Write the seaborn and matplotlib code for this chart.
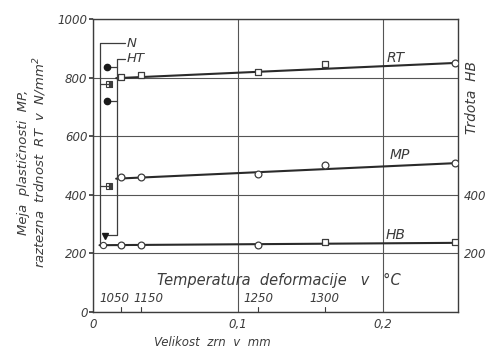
import matplotlib
matplotlib.use("Agg")
import matplotlib.pyplot as plt
import seaborn as sns
import pandas as pd

# ---------------- data ----------------
grain_size = [0.019, 0.033, 0.114, 0.160, 0.250]   # mm
rt_values = [802, 808, 818, 846, 850]               # N/mm^2
mp_values = [460, 462, 470, 502, 508]               # N/mm^2
hb_values = [228, 228, 229, 238, 238]               # HB
rt_marks = ["s", "s", "s", "s", "o"]
mp_marks = ["o", "o", "o", "o", "o"]
hb_marks = ["o", "o", "o", "s", "s"]

# fitted straight lines (end points)
rt_fit_x, rt_fit_y = [0.016, 0.250], [798, 850]
mp_fit_x, mp_fit_y = [0.016, 0.250], [455, 508]
hb_fit_x, hb_fit_y = [0.0045, 0.250], [228, 236]

# N and HT states
n_x, n_vals = [0.011, 0.011, 0.007], [778, 430, 228]
ht_x, ht_vals = [0.010, 0.010, 0.008], [836, 720, 259]

# temperature scale
temp_labels = ["1050", "1150", "1250", "1300"]
temp_x = [0.019, 0.033, 0.114, 0.160]

y_ticks = [0, 200, 400, 600, 800, 1000]
y_ticklabels = ["0", "200", "400", "600", "800", "1000"]
x_ticks = [0, 0.1, 0.2]
x_ticklabels = ["0", "0,1", "0,2"]
hb_ticks = [200, 400]
hb_ticklabels = ["200", "400"]

# ---------------- style ----------------
sns.set_theme(style="white")
plt.rcParams["font.family"] = ["DejaVu Sans"]
plt.rcParams["font.style"] = "italic"
INK = "#3c3c3c"
plt.rcParams["text.color"] = INK

fig = plt.figure(figsize=(4.86, 3.52), dpi=100)
ax = fig.add_axes([93 / 486, 1 - 312 / 352, 365 / 486, 293 / 352])

ax.set_xlim(0, 0.252)
ax.set_ylim(0, 1000)
ax.set_xticks(x_ticks)
ax.set_yticks(y_ticks)
ax.set_xticklabels(x_ticklabels, fontsize=8.5, color=INK)
ax.set_yticklabels(y_ticklabels, fontsize=8.5, color=INK)
ax.grid(True, color="#555555", linewidth=0.8)
ax.tick_params(axis="y", length=3, color=INK, pad=1)
ax.tick_params(axis="x", length=0, pad=4)
for s in ax.spines.values():
    s.set_color(INK)
    s.set_linewidth(1.0)

# fitted lines
for fx, fy in [(rt_fit_x, rt_fit_y), (mp_fit_x, mp_fit_y), (hb_fit_x, hb_fit_y)]:
    sns.lineplot(x=fx, y=fy, ax=ax, color="#2a2a2a", linewidth=1.5, legend=False)

# measured points
df = pd.DataFrame({
    "x": grain_size * 3,
    "y": rt_values + mp_values + hb_values,
    "m": rt_marks + mp_marks + hb_marks,
})
for mk in ["s", "o"]:
    sub = df[df["m"] == mk]
    sns.scatterplot(data=sub, x="x", y="y", ax=ax, marker=mk, s=24,
                    facecolor="white", edgecolor=INK, linewidth=0.9,
                    zorder=5, legend=False)
ax.set_xlabel("")
ax.set_ylabel("")

# N state: half-filled squares + open circle
ax.plot(n_x[:2], n_vals[:2], ls="none", marker="s", ms=5, mfc=INK,
        fillstyle="right", mec=INK, mew=0.8, zorder=5)
ax.plot(n_x[2:], n_vals[2:], ls="none", marker="o", ms=4.5, mfc="white",
        mec=INK, mew=0.8, zorder=5)
# HT state: filled markers
ax.plot(ht_x[:2], ht_vals[:2], ls="none", marker="o", ms=4.5, color="#1a1a1a", zorder=5)
ax.plot(ht_x[2:], ht_vals[2:], ls="none", marker="v", ms=5, color="#1a1a1a", zorder=5)

# brackets
n_br_x, ht_br_x, br_end = 0.0045, 0.0165, 0.022
ax.plot([br_end, n_br_x, n_br_x], [918, 918, hb_fit_y[0]], color=INK, lw=0.9, zorder=4)
for xv, yv in zip(n_x[:2], n_vals[:2]):
    ax.plot([n_br_x, xv], [yv, yv], color=INK, lw=0.9, zorder=4)
ax.plot([br_end, ht_br_x, ht_br_x, ht_x[2]], [863, 863, 263, 263], color=INK, lw=0.9, zorder=4)
for xv, yv in zip(ht_x[:2], ht_vals[:2]):
    ax.plot([ht_br_x, xv], [yv, yv], color=INK, lw=0.9, zorder=4)
ax.text(0.0235, 918, "N", fontsize=9.5, va="center", ha="left")
ax.text(0.0235, 866, "HT", fontsize=9.5, va="center", ha="left")

# curve labels
ax.text(0.209, 868, "RT", fontsize=10, ha="center", va="center")
ax.text(0.212, 535, "MP", fontsize=10, ha="center", va="center")
ax.text(0.209, 263, "HB", fontsize=10, ha="center", va="center")

# temperature scale
for tx in temp_x:
    ax.plot([tx, tx], [0, 18], color=INK, lw=0.8)
label_shift = [-0.004, 0.005, 0.0, 0.0]
for tx, sh, lab in zip(temp_x, label_shift, temp_labels):
    ax.text(tx + sh, 47, lab, fontsize=8.5, ha="center", va="center")
ax.text(0.128, 106, "Temperatura  deformacije   v   \u00b0C", fontsize=10.5,
        ha="center", va="center")

# right HB axis
ax2 = ax.twinx()
ax2.set_ylim(0, 1000)
ax2.set_yticks(hb_ticks)
ax2.set_yticklabels(hb_ticklabels, fontsize=8.5, color=INK)
ax2.tick_params(axis="y", length=0, pad=4)
ax2.grid(False)
for s in ax2.spines.values():
    s.set_visible(False)
fig.text(472 / 486, 1 - 98 / 352, "Trdota  HB", rotation=90, fontsize=10,
         ha="center", va="center")

# axis titles
fig.text(33 / 486, 1 - 162 / 352,
         "Meja  plastičnosti  MP,\nraztezna  trdnost  RT  v  N/mm$^2$",
         rotation=90, fontsize=9.5, ha="center", va="center",
         multialignment="center", linespacing=1.15)
fig.text(212 / 486, 1 - 343 / 352, "Velikost  zrn  v  mm", fontsize=8.5,
         ha="center", va="center")

fig.savefig("out.png", dpi=100, facecolor="white")
